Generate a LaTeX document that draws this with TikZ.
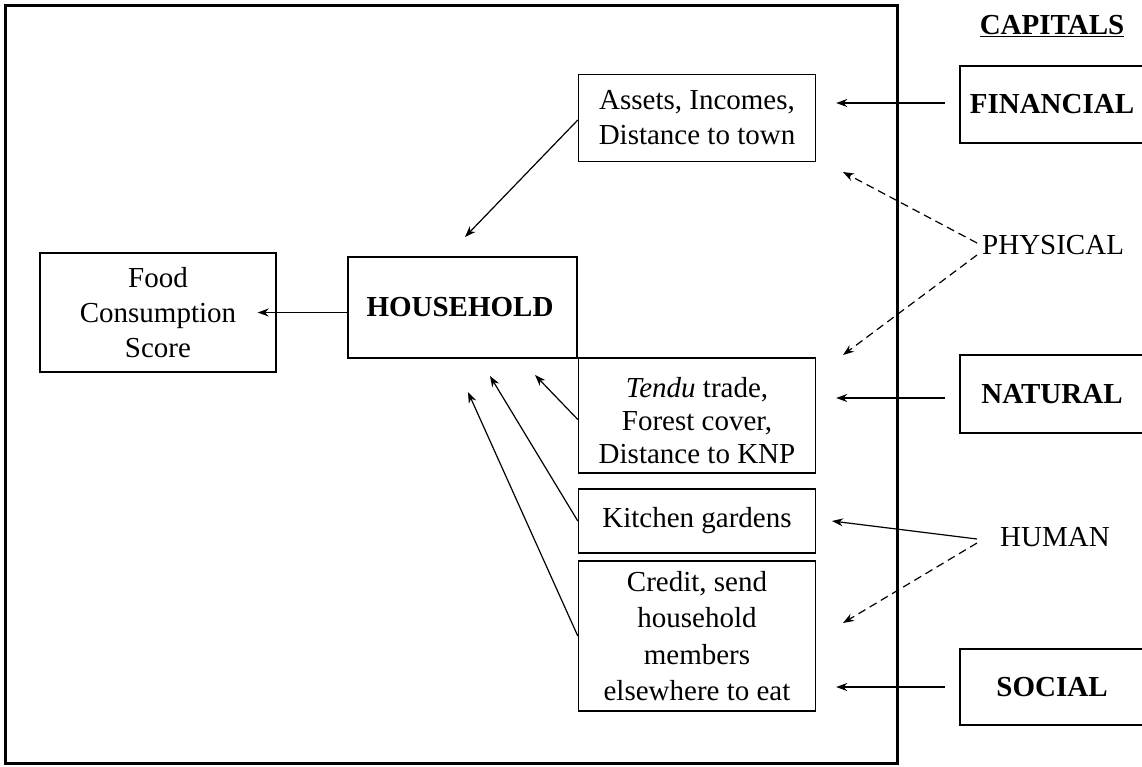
\documentclass[tikz,border=0pt]{standalone}
\usepackage{fontspec}
\setmainfont{Liberation Serif}
\usetikzlibrary{arrows.meta,calc}
\begin{document}
\begin{tikzpicture}[x=1pt,y=-1pt,
  box/.style={draw, line width=1.4, align=center, inner sep=0pt, font=\fontsize{29}{35}\selectfont},
  capbox/.style={draw, line width=1.4, align=center, inner sep=0pt, font=\fontsize{29}{35}\selectfont\bfseries},
  lbl/.style={inner sep=0pt, font=\fontsize{29}{35}\selectfont},
  arr/.style={line width=1.2, -{Stealth[length=11pt,width=8pt]}},
  darr/.style={arr, dash pattern=on 8pt off 5pt}]
\clip (0,0) rectangle (1142,766);
\fill[white] (0,0) rectangle (1142,766);
% frame
\node[draw, line width=3, minimum width=892, minimum height=758, inner sep=0] (frame) at (451,384) {};
% nodes
\node[box, minimum width=236, minimum height=119] (food) at (158,312.5) {Food\\Consumption\\Score};
\node[box, minimum width=229, minimum height=101, font=\fontsize{29}{35}\selectfont\bfseries] (hh) at (462.5,307.5) {HOUSEHOLD\hspace*{5pt}};
\node[box, minimum width=237, minimum height=87] (assets) at (697,118) {Assets, Incomes,\\Distance to town};
\node[box, minimum width=237, minimum height=115, font=\fontsize{29}{33}\selectfont] (tendu) at (697,415.5) {\rule{0pt}{30pt}\textit{Tendu} trade,\\Forest cover,\\Distance to KNP};
\node[box, minimum width=237, minimum height=64] (kitchen) at (697,521) {Kitchen gardens};
\node[box, minimum width=237, minimum height=150, font=\fontsize{29}{36.5}\selectfont] (credit) at (697,636) {Credit, send\\household\\members\\elsewhere to eat};
\node[capbox, minimum width=190, minimum height=77] (financial) at (1055,104.5) {\hspace*{-6pt}FINANCIAL};
\node[capbox, minimum width=190, minimum height=78] (natural) at (1055,394) {\hspace*{-6pt}NATURAL};
\node[capbox, minimum width=190, minimum height=76] (social) at (1055,687) {\hspace*{-6pt}SOCIAL};
\node[lbl, font=\fontsize{29}{35}\selectfont\bfseries] (capitals) at (1052,26) {\underline{CAPITALS}};
\node[lbl, anchor=west] (physical) at (982,245) {PHYSICAL};
\node[lbl, anchor=west] (human) at (1000,537) {HUMAN};
% coordinates
\coordinate (t1) at (465,237);
\coordinate (t2) at (535,375);
\coordinate (t3) at (490,376);
\coordinate (t4) at (468,392);
\coordinate (pa) at (843,172);
\coordinate (pb) at (843,355);
\coordinate (ha) at (832,521);
\coordinate (hb) at (843,623);
% connectors
\draw[arr] (hh.west |- food.east) -- ($(food.east)+(-19,0)$);
\draw[arr] (assets.west) ++(0,2) -- (t1);
\draw[arr] (tendu.west) ++(0,4) -- (t2);
\draw[arr] (kitchen.west) -- (t3);
\draw[arr] (credit.west) -- (t4);
\draw[arr] ($(financial.west)+(-14,-1.5)$) -- ($(assets.east)+(20,-15)$);
\draw[arr] ($(natural.west)+(-14,4)$) -- ($(tendu.east)+(20,-17.5)$);
\draw[arr] ($(social.west)+(-14,0)$) -- ($(credit.east)+(20,51)$);
\draw[darr] ($(physical.west)+(-5,-2)$) -- (pa);
\draw[darr] ($(physical.west)+(-5,10)$) -- (pb);
\draw[arr] ($(human.west)+(-23,2)$) -- (ha);
\draw[darr] ($(human.west)+(-23,6)$) -- (hb);
\end{tikzpicture}
\end{document}
